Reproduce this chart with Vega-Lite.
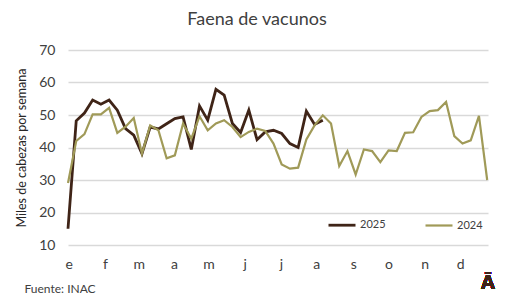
{
  "$schema": "https://vega.github.io/schema/vega-lite/v6.json",
  "width": 420,
  "height": 195,
  "autosize": {"type": "none"},
  "padding": {"left": 68, "top": 50, "right": 26, "bottom": 62},
  "background": "white",
  "config": {
    "font": "Lato",
    "view": {"stroke": null},
    "axis": {"labelOverlap": false}
  },
  "title": {
    "text": "Faena de vacunos",
    "fontSize": 18,
    "fontWeight": "normal",
    "color": "#404040",
    "anchor": "middle",
    "offset": 14,
    "dx": -21
  },
  "resolve": {"axis": {"x": "independent", "y": "independent"}},
  "data": {
    "values": [
      {"serie": "2025", "semana": 0, "valor": 15},
      {"serie": "2025", "semana": 1, "valor": 48.2},
      {"serie": "2025", "semana": 2, "valor": 50.6},
      {"serie": "2025", "semana": 3, "valor": 54.6},
      {"serie": "2025", "semana": 4, "valor": 53.3},
      {"serie": "2025", "semana": 5, "valor": 54.6},
      {"serie": "2025", "semana": 6, "valor": 51.5},
      {"serie": "2025", "semana": 7, "valor": 45.8},
      {"serie": "2025", "semana": 8, "valor": 43.8},
      {"serie": "2025", "semana": 9, "valor": 38.1},
      {"serie": "2025", "semana": 10, "valor": 46.3},
      {"serie": "2025", "semana": 11, "valor": 45.7},
      {"serie": "2025", "semana": 12, "valor": 47.3},
      {"serie": "2025", "semana": 13, "valor": 48.9},
      {"serie": "2025", "semana": 14, "valor": 49.4},
      {"serie": "2025", "semana": 15, "valor": 39.4},
      {"serie": "2025", "semana": 16, "valor": 52.8},
      {"serie": "2025", "semana": 17, "valor": 48.4},
      {"serie": "2025", "semana": 18, "valor": 57.9},
      {"serie": "2025", "semana": 19, "valor": 56.1},
      {"serie": "2025", "semana": 20, "valor": 47.4},
      {"serie": "2025", "semana": 21, "valor": 44.6},
      {"serie": "2025", "semana": 22, "valor": 51.5},
      {"serie": "2025", "semana": 23, "valor": 42.4},
      {"serie": "2025", "semana": 24, "valor": 44.8},
      {"serie": "2025", "semana": 25, "valor": 45.3},
      {"serie": "2025", "semana": 26, "valor": 44.3},
      {"serie": "2025", "semana": 27, "valor": 41.2},
      {"serie": "2025", "semana": 28, "valor": 40.0},
      {"serie": "2025", "semana": 29, "valor": 51.2},
      {"serie": "2025", "semana": 30, "valor": 47.1},
      {"serie": "2025", "semana": 31, "valor": 48.4},
      {"serie": "2024", "semana": 0, "valor": 29.1},
      {"serie": "2024", "semana": 1, "valor": 42.0},
      {"serie": "2024", "semana": 2, "valor": 44.1},
      {"serie": "2024", "semana": 3, "valor": 50.2},
      {"serie": "2024", "semana": 4, "valor": 50.2},
      {"serie": "2024", "semana": 5, "valor": 52.2},
      {"serie": "2024", "semana": 6, "valor": 44.5},
      {"serie": "2024", "semana": 7, "valor": 46.4},
      {"serie": "2024", "semana": 8, "valor": 49.1},
      {"serie": "2024", "semana": 9, "valor": 38.1},
      {"serie": "2024", "semana": 10, "valor": 46.8},
      {"serie": "2024", "semana": 11, "valor": 45.3},
      {"serie": "2024", "semana": 12, "valor": 36.7},
      {"serie": "2024", "semana": 13, "valor": 37.6},
      {"serie": "2024", "semana": 14, "valor": 47.4},
      {"serie": "2024", "semana": 15, "valor": 42.7},
      {"serie": "2024", "semana": 16, "valor": 49.6},
      {"serie": "2024", "semana": 17, "valor": 45.3},
      {"serie": "2024", "semana": 18, "valor": 47.4},
      {"serie": "2024", "semana": 19, "valor": 48.4},
      {"serie": "2024", "semana": 20, "valor": 46.3},
      {"serie": "2024", "semana": 21, "valor": 43.2},
      {"serie": "2024", "semana": 22, "valor": 44.8},
      {"serie": "2024", "semana": 23, "valor": 45.8},
      {"serie": "2024", "semana": 24, "valor": 45.1},
      {"serie": "2024", "semana": 25, "valor": 41.2},
      {"serie": "2024", "semana": 26, "valor": 34.8},
      {"serie": "2024", "semana": 27, "valor": 33.5},
      {"serie": "2024", "semana": 28, "valor": 33.8},
      {"serie": "2024", "semana": 29, "valor": 42.5},
      {"serie": "2024", "semana": 30, "valor": 46.8},
      {"serie": "2024", "semana": 31, "valor": 49.9},
      {"serie": "2024", "semana": 32, "valor": 47.4},
      {"serie": "2024", "semana": 33, "valor": 34.3},
      {"serie": "2024", "semana": 34, "valor": 38.9},
      {"serie": "2024", "semana": 35, "valor": 31.7},
      {"serie": "2024", "semana": 36, "valor": 39.4},
      {"serie": "2024", "semana": 37, "valor": 38.9},
      {"serie": "2024", "semana": 38, "valor": 35.5},
      {"serie": "2024", "semana": 39, "valor": 39.1},
      {"serie": "2024", "semana": 40, "valor": 38.9},
      {"serie": "2024", "semana": 41, "valor": 44.5},
      {"serie": "2024", "semana": 42, "valor": 44.7},
      {"serie": "2024", "semana": 43, "valor": 49.4},
      {"serie": "2024", "semana": 44, "valor": 51.2},
      {"serie": "2024", "semana": 45, "valor": 51.5},
      {"serie": "2024", "semana": 46, "valor": 54.0},
      {"serie": "2024", "semana": 47, "valor": 43.5},
      {"serie": "2024", "semana": 48, "valor": 41.2},
      {"serie": "2024", "semana": 49, "valor": 42.2},
      {"serie": "2024", "semana": 50, "valor": 49.7},
      {"serie": "2024", "semana": 51, "valor": 30.0}
    ]
  },
  "layer": [
    {
      "mark": {"type": "line", "strokeJoin": "miter", "clip": false},
      "encoding": {
        "x": {
          "field": "semana",
          "type": "quantitative",
          "scale": {"domain": [0, 51.1], "nice": false, "zero": false},
          "axis": {
            "values": [0.1, 4.5, 8.6, 12.9, 17.1, 21.5, 25.9, 30.2, 34.7, 39, 43.4, 47.7],
            "labelExpr": "['e','f','m','a','m','j','j','a','s','o','n','d'][round((datum.value-0.1)/4.33)]",
            "grid": false,
            "ticks": false,
            "domain": false,
            "labelFontSize": 14,
            "labelColor": "#404040",
            "labelPadding": 12,
            "labelFlush": false,
            "labelOverlap": false,
            "labelBound": false,
            "title": "Fuente: INAC",
            "titleFontSize": 12,
            "titleFontWeight": "normal",
            "titleColor": "#404040",
            "titleAnchor": "start",
            "titleAlign": "left",
            "titleBaseline": "middle",
            "titleX": -44,
            "titleY": 43
          }
        },
        "y": {
          "field": "valor",
          "type": "quantitative",
          "scale": {"domain": [10, 70], "nice": false, "zero": false},
          "axis": {
            "values": [10, 20, 30, 40, 50, 60, 70],
            "grid": true,
            "gridColor": "#d9d9d9",
            "gridWidth": 1.5,
            "ticks": false,
            "domain": false,
            "labelFontSize": 14,
            "labelColor": "#404040",
            "labelPadding": 13,
            "labelOverlap": false,
            "labelBound": false,
            "title": "Miles de cabezas por semana",
            "titleFontSize": 12.5,
            "titleFontWeight": "normal",
            "titleColor": "#262626",
            "titlePadding": 10
          }
        },
        "color": {
          "field": "serie",
          "type": "nominal",
          "scale": {"domain": ["2025", "2024"], "range": ["#3f2417", "#a09a58"]},
          "legend": {
            "title": null,
            "orient": "none",
            "direction": "horizontal",
            "legendX": 259,
            "legendY": 160,
            "symbolType": "stroke",
            "symbolSize": 729,
            "symbolStrokeWidth": 2.5,
            "labelFontSize": 11,
            "labelColor": "#404040",
            "labelOffset": 3,
            "columnPadding": 35
          }
        },
        "strokeWidth": {
          "field": "serie",
          "type": "nominal",
          "scale": {"domain": ["2025", "2024"], "range": [2.8, 2.2]},
          "legend": null
        }
      }
    },
    {
      "mark": {"type": "text", "text": "Ā", "fontSize": 20, "fontWeight": "bold", "color": "#3f2417", "align": "center", "baseline": "middle", "clip": false, "font": "Liberation Sans"},
      "encoding": {
        "x": {"datum": 51.1, "type": "quantitative", "axis": null},
        "y": {"datum": -1.7, "type": "quantitative", "axis": null}
      }
    }
  ]
}
